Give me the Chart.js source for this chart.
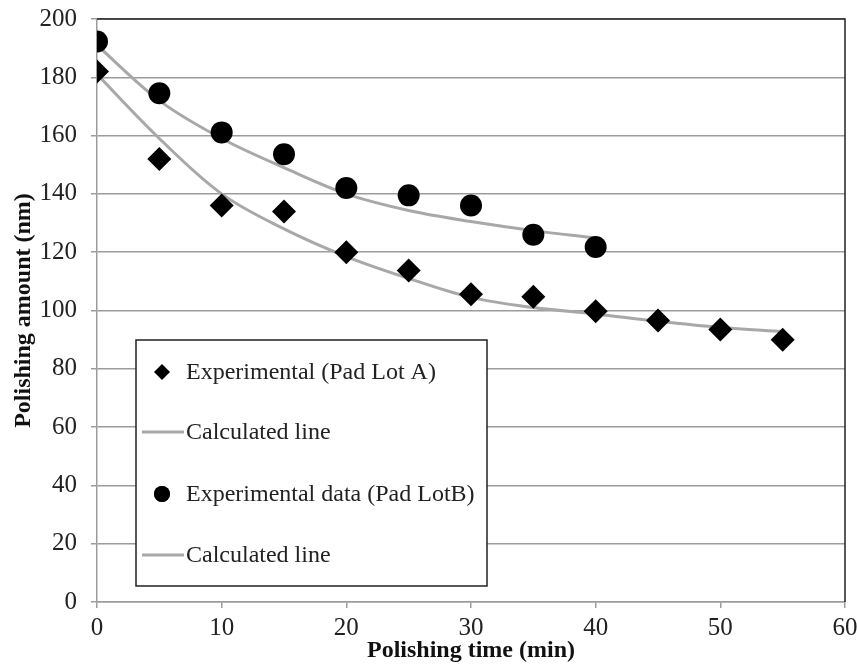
<!DOCTYPE html>
<html>
<head>
<meta charset="utf-8">
<script src="https://cdn.jsdelivr.net/npm/chart.js@4/dist/chart.umd.min.js"></script>
<style>
  html, body { margin: 0; padding: 0; background: #fff; }
  #wrap { position: relative; width: 857px; height: 668px; }
</style>
</head>
<body>
<div id="wrap"><canvas id="c" width="857" height="668"></canvas></div>
<script>
// ---- data ----
const expTimeA = [0, 5, 10, 15, 20, 25, 30, 35, 40, 45, 50, 55];
const expAmountA = [182, 152, 136, 134, 120, 113.7, 105.6, 104.7, 99.7, 96.6, 93.5, 90];
const calcTimeA = [0, 5, 10, 15, 20, 25, 30, 35, 40, 45, 50, 55];
const calcAmountA = [181, 159, 140, 128, 118.5, 111, 104.5, 101, 98.8, 96.3, 94.2, 92.8];

const expTimeB = [0, 5, 10, 15, 20, 25, 30, 35, 40];
const expAmountB = [192.3, 174.5, 161.1, 153.6, 142, 139.5, 136, 126, 121.8];
const calcTimeB = [0, 5, 10, 15, 20, 25, 30, 35, 40];
const calcAmountB = [191, 172, 159, 149, 140, 134.3, 130.5, 127.4, 124.9];

const labelExpA = 'Experimental (Pad Lot A)';
const labelCalcA = 'Calculated line';
const labelExpB = 'Experimental data (Pad LotB)';
const labelCalcB = 'Calculated line';

const xTitle = 'Polishing time (min)';
const yTitle = 'Polishing amount (nm)';

const pts = (xs, ys) => xs.map((x, i) => ({ x: x, y: ys[i] }));

const SERIF = '"Liberation Serif", "DejaVu Serif", serif';
const LINE_GRAY = '#a8a8a8';
const GRID_GRAY = '#9c9c9c';

const frame = {
  id: 'frame',
  beforeDatasetsDraw(chart) {
    const { ctx, chartArea: a } = chart;
    ctx.save();
    ctx.strokeStyle = '#222';
    ctx.lineWidth = 1.5;
    ctx.beginPath();
    ctx.moveTo(a.left, a.top);
    ctx.lineTo(a.right, a.top);
    ctx.lineTo(a.right, a.bottom);
    ctx.stroke();
    ctx.restore();
  }
};

const boxLegend = {
  id: 'boxLegend',
  afterDraw(chart) {
    const { ctx } = chart;
    const ds = chart.data.datasets;
    const bx = 136, by = 340, bw = 351, bh = 246;
    ctx.save();
    ctx.fillStyle = '#fff';
    ctx.fillRect(bx, by, bw, bh);
    ctx.strokeStyle = '#222';
    ctx.lineWidth = 1.5;
    ctx.strokeRect(bx, by, bw, bh);
    const rows = [372, 432, 494, 555];
    ctx.font = '24px ' + SERIF;
    ctx.textBaseline = 'middle';
    ds.forEach((d, i) => {
      const y = rows[i];
      if (d.showLine) {
        ctx.strokeStyle = d.borderColor;
        ctx.lineWidth = 3;
        ctx.beginPath();
        ctx.moveTo(142, y);
        ctx.lineTo(184, y);
        ctx.stroke();
      } else {
        const r = d.pointStyle === 'circle' ? 8 : 8;
        Chart.helpers.drawPoint(ctx, { pointStyle: d.pointStyle, radius: r, borderWidth: 0, rotation: 0 }, 162, y);
        ctx.fillStyle = '#000';
        ctx.fill();
      }
      ctx.fillStyle = '#222';
      ctx.fillText(d.label, 186, y + 1);
    });
    ctx.restore();
  }
};

new Chart(document.getElementById('c'), {
  type: 'scatter',
  data: {
    datasets: [
      { label: labelExpA, data: pts(expTimeA, expAmountA), pointStyle: 'rectRot', pointRadius: 12,
        backgroundColor: '#000', borderColor: '#000', borderWidth: 0, showLine: false, order: 1 },
      { label: labelCalcA, data: pts(calcTimeA, calcAmountA), showLine: true, pointRadius: 0,
        borderColor: LINE_GRAY, borderWidth: 3, tension: 0.35, order: 2 },
      { label: labelExpB, data: pts(expTimeB, expAmountB), pointStyle: 'circle', pointRadius: 11,
        backgroundColor: '#000', borderColor: '#000', borderWidth: 0, showLine: false, order: 1 },
      { label: labelCalcB, data: pts(calcTimeB, calcAmountB), showLine: true, pointRadius: 0,
        borderColor: LINE_GRAY, borderWidth: 3, tension: 0.35, order: 2 }
    ]
  },
  options: {
    responsive: false,
    animation: false,
    layout: { padding: { top: 19, right: 11, left: 0, bottom: 0 } },
    plugins: { legend: { display: false }, tooltip: { enabled: false } },
    scales: {
      x: {
        type: 'linear', min: 0, max: 60,
        ticks: { stepSize: 10, color: '#222', font: { family: SERIF, size: 25 }, padding: 5 },
        grid: { display: true, drawOnChartArea: false, drawTicks: true, tickLength: 6, color: GRID_GRAY, lineWidth: 1.5 },
        border: { display: true, color: GRID_GRAY, width: 1.5 },
        title: { display: true, text: xTitle, color: '#111', font: { family: SERIF, size: 24, weight: 'bold' }, padding: { top: 0, bottom: 3 } },
        afterFit: (s) => { s.height = 66; s.paddingLeft = 0; s.paddingRight = 0; }
      },
      y: {
        min: 0, max: 200,
        ticks: { stepSize: 20, color: '#222', font: { family: SERIF, size: 25 }, padding: 14 },
        grid: { display: true, drawOnChartArea: true, drawTicks: true, tickLength: 6, color: GRID_GRAY, lineWidth: 1.5 },
        border: { display: true, color: GRID_GRAY, width: 1.5 },
        title: { display: true, text: yTitle, color: '#111', font: { family: SERIF, size: 24, weight: 'bold' }, padding: { top: 9, bottom: 0 } },
        afterFit: (s) => { s.width = 97; s.paddingTop = 0; s.paddingBottom = 0; }
      }
    }
  },
  plugins: [frame, boxLegend]
});
</script>
</body>
</html>
